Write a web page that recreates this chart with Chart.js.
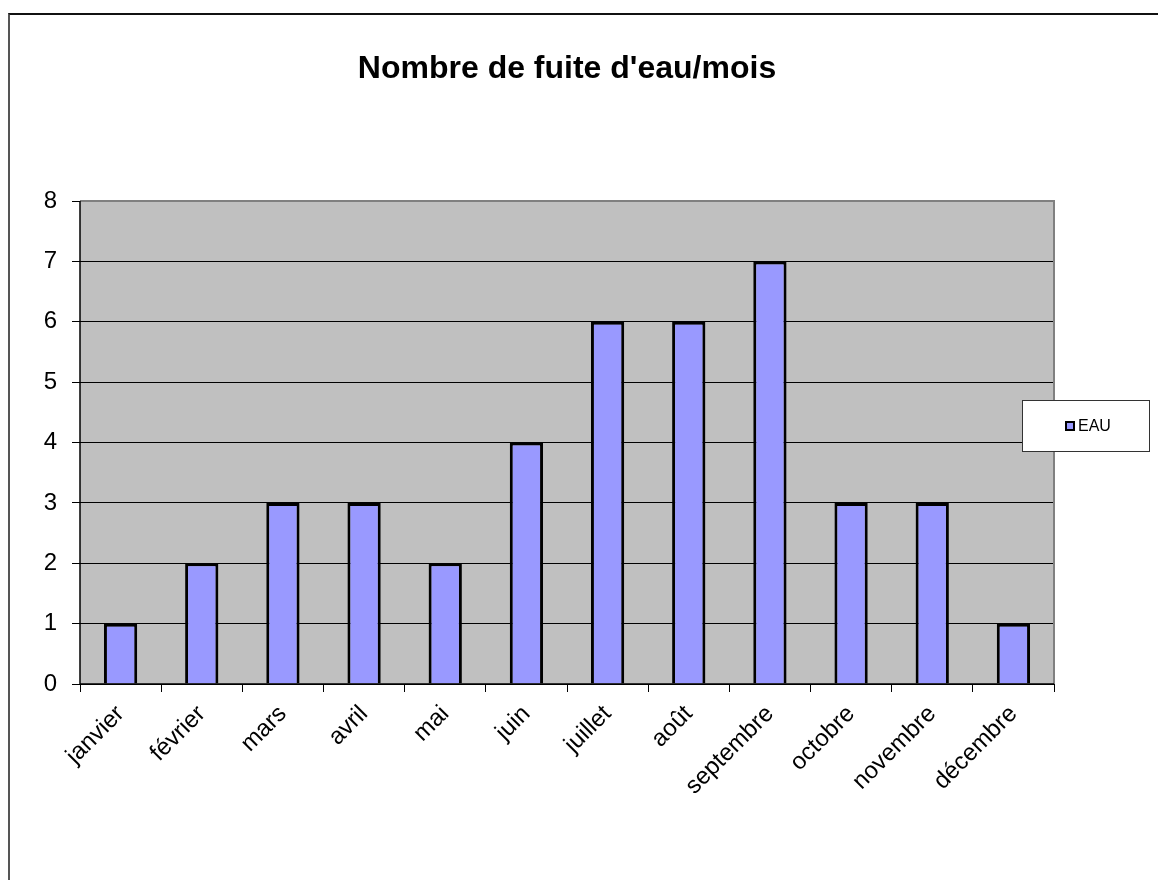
<!DOCTYPE html>
<html>
<head>
<meta charset="utf-8">
<script src="https://cdn.jsdelivr.net/npm/chart.js@4"></script>
<style>
  html, body { margin: 0; padding: 0; background: #fff; }
  #wrap { position: relative; width: 1158px; height: 880px; }
  #frame { position: absolute; left: 8px; top: 13px; right: 0; bottom: 0;
           border-top: 2px solid #111; border-left: 2px solid #555; }
  canvas { position: absolute; left: 0; top: 0; }
</style>
</head>
<body>
<div id="wrap">
  <div id="frame"></div>
  <canvas id="chart" width="1158" height="880"></canvas>
</div>
<script>
// data
const mois = ['janvier', 'février', 'mars', 'avril', 'mai', 'juin', 'juillet', 'août', 'septembre', 'octobre', 'novembre', 'décembre'];
const fuites = [1, 2, 3, 3, 2, 4, 6, 6, 7, 3, 3, 1];
const titre = "Nombre de fuite d'eau/mois";
const serie = 'EAU';

const FONT = 'Arial, "Liberation Sans", sans-serif';

// title, plot frame and legend box drawn like the Excel chart
const extras = {
    id: 'extras',
    beforeDraw(chart) {
        const { ctx, chartArea: a } = chart;
        ctx.save();
        ctx.fillStyle = '#c0c0c0';
        ctx.fillRect(a.left, a.top, a.right - a.left, a.bottom - a.top);
        ctx.restore();
    },
    afterDatasetsDraw(chart) {
        const { ctx, chartArea: a } = chart;
        ctx.save();
        // plot area frame
        ctx.strokeStyle = '#808080';
        ctx.lineWidth = 2;
        ctx.beginPath();
        ctx.moveTo(a.left, a.top); ctx.lineTo(a.right, a.top); ctx.lineTo(a.right, a.bottom);
        ctx.stroke();
        ctx.strokeStyle = '#000';
        ctx.lineWidth = 1.5;
        ctx.beginPath();
        ctx.moveTo(a.left, a.top); ctx.lineTo(a.left, a.bottom); ctx.lineTo(a.right, a.bottom);
        ctx.stroke();

        // title
        ctx.fillStyle = '#000';
        ctx.font = 'bold 32px ' + FONT;
        ctx.textAlign = 'center';
        ctx.textBaseline = 'alphabetic';
        ctx.fillText(titre, 567, 78);

        // legend
        ctx.fillStyle = '#fff';
        ctx.fillRect(1022, 400, 128, 52);
        ctx.strokeStyle = '#333';
        ctx.lineWidth = 1;
        ctx.strokeRect(1022.5, 400.5, 127, 51);
        ctx.fillStyle = '#9999ff';
        ctx.fillRect(1066, 422, 8, 8);
        ctx.strokeStyle = '#000';
        ctx.lineWidth = 2;
        ctx.strokeRect(1066, 422, 8, 8);
        ctx.fillStyle = '#000';
        ctx.font = '16px ' + FONT;
        ctx.textAlign = 'left';
        ctx.textBaseline = 'middle';
        ctx.fillText(serie, 1078, 427);
        ctx.restore();
    }
};

const ctx = document.getElementById('chart').getContext('2d');
const chart = new Chart(ctx, {
    type: 'bar',
    data: {
        labels: mois,
        datasets: [{
            label: serie,
            data: fuites,
            backgroundColor: '#9999ff',
            borderColor: '#000',
            borderWidth: 3,
            barPercentage: 0.41,
            categoryPercentage: 1
        }]
    },
    options: {
        responsive: false,
        animation: false,
        layout: { padding: { left: 0, right: 104, top: 201, bottom: 0 } },
        plugins: { legend: { display: false }, title: { display: false }, tooltip: { enabled: false } },
        scales: {
            y: {
                min: 0, max: 8,
                ticks: { stepSize: 1, color: '#000', font: { size: 24, family: FONT }, padding: 15 },
                grid: { color: '#000', lineWidth: 1, tickLength: 8 },
                border: { display: false },
                afterFit(s) { s.width = 80; }
            },
            x: {
                offset: true,
                ticks: { color: '#000', font: { size: 24, family: FONT }, minRotation: 45, maxRotation: 45, padding: 8 },
                grid: { offset: true, drawOnChartArea: false, color: '#000', tickLength: 8 },
                border: { display: false },
                afterFit(s) { s.height = 196; }
            }
        }
    },
    plugins: [extras]
});
</script>
</body>
</html>
